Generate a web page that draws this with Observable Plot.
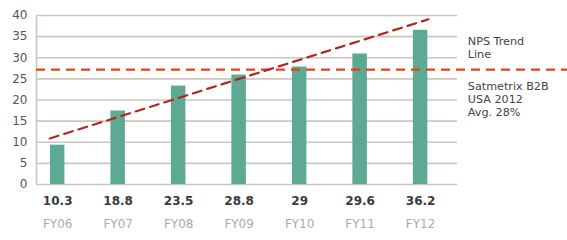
<!DOCTYPE html>
<html>
<head>
<meta charset="utf-8">
<script src="https://cdn.jsdelivr.net/npm/d3@7"></script>
<script src="https://cdn.jsdelivr.net/npm/@observablehq/plot@0.6"></script>
<style>
  body { margin: 0; background: #fff; }
  #chart svg { display: block; }
</style>
</head>
<body>
<div id="chart"></div>
<script>
const years = ["FY06", "FY07", "FY08", "FY09", "FY10", "FY11", "FY12"];
const valueLabels = ["10.3", "18.8", "23.5", "28.8", "29", "29.6", "36.2"];
const barHeights = [9.3, 17.4, 23.3, 25.9, 27.8, 30.9, 36.5];
const trendX = [-0.13, 6.13];
const trendY = [10.9, 39.1];
const benchmark = 27.2;
const yTicks = [0, 5, 10, 15, 20, 25, 30, 35, 40];
const trendLabel = ["NPS Trend", "Line"];
const benchLabel = ["Satmetrix B2B", "USA 2012", "Avg. 28%"];

const bars = years.map((y, i) => ({i, year: y, h: barHeights[i], label: valueLabels[i]}));
const trend = trendX.map((x, k) => ({x, y: trendY[k]}));
const idx = years.map((_, i) => i);

const font = "'DejaVu Sans', sans-serif";
const grid = "#cdc6be";
const pxPerUnit = 169 / 40;
const lineGap = 13.2;
const trendLines = trendLabel.map((t, k) => ({t, y: 34.9 - k * lineGap / pxPerUnit}));
const benchLines = benchLabel.map((t, k) => ({t, y: 24.3 - k * lineGap / pxPerUnit}));

const chart = Plot.plot({
  width: 567,
  height: 240,
  marginLeft: 36,
  marginRight: 110,
  marginTop: 15,
  marginBottom: 56,
  style: {fontFamily: font, background: "#fff", overflow: "visible"},
  x: {domain: [-0.35, 6.61], axis: null},
  y: {domain: [0, 40], axis: null},
  marks: [
    Plot.ruleY(yTicks, {stroke: grid, strokeWidth: 1.6}),
    Plot.ruleX([-0.35], {y1: 0, y2: 40, stroke: grid, strokeWidth: 1.6}),
    Plot.rectY(bars, {x1: d => d.i - 0.12, x2: d => d.i + 0.12, y1: 0, y2: "h", fill: "#5ea994"}),
    Plot.ruleY([benchmark], {x1: -0.35, x2: 8.5, stroke: "#e5431d", strokeWidth: 2.2, strokeDasharray: "9,6"}),
    Plot.line(trend, {x: "x", y: "y", stroke: "#b3261e", strokeWidth: 2.2, strokeDasharray: "9,6"}),
    Plot.axisY(yTicks, {tickSize: 0, tickPadding: 9, fontSize: 12, fill: "#555", label: null}),
    Plot.axisX(idx, {tickSize: 0, tickPadding: 12, tickFormat: i => valueLabels[i], fontSize: 12, fontWeight: 600, fill: "#3a3a3a", label: null}),
    Plot.axisX(idx, {tickSize: 0, tickPadding: 35, tickFormat: i => years[i], fontSize: 12, fill: "#aaa", label: null}),
    Plot.text(trendLines, {x: 6.78, y: "y", text: "t", textAnchor: "start", lineAnchor: "top", fontSize: 11.2, fill: "#444"}),
    Plot.text(benchLines, {x: 6.78, y: "y", text: "t", textAnchor: "start", lineAnchor: "top", fontSize: 11.2, fill: "#444"})
  ]
});
document.getElementById("chart").appendChild(chart);
</script>
</body>
</html>
